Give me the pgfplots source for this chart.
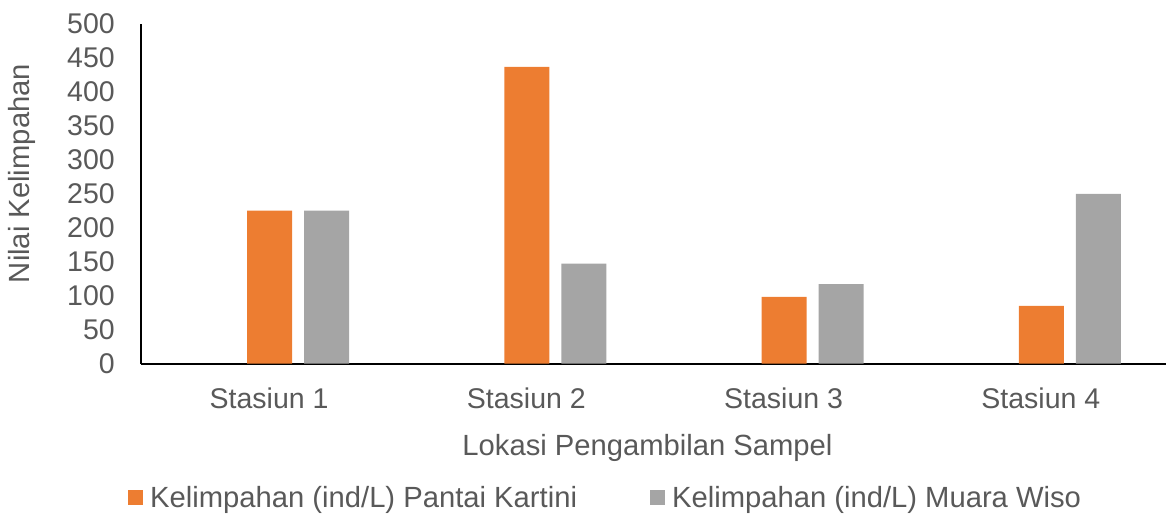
\documentclass[border=0pt]{standalone}
\usepackage{pgfplots}
\pgfplotsset{compat=1.18}
\usepackage{fontspec}
\setmainfont{Liberation Sans}
\definecolor{cOrange}{HTML}{ED7D31}
\definecolor{cGray}{HTML}{A5A5A5}
\definecolor{cText}{HTML}{595959}
\newcommand{\cf}{\fontsize{28.5}{34}\selectfont}
\newcommand{\lf}{\fontsize{29.2}{35}\selectfont}
\begin{document}
\begin{tikzpicture}
\path[use as bounding box] (0,0) rectangle (1166pt,514pt);
\begin{axis}[
  at={(140.5pt,150.5pt)}, anchor=south west,
  scale only axis, width=1029pt, height=339.5pt,
  xmin=-0.5, xmax=3.5, ymin=0, ymax=500,
  ytick={0,50,...,500},
  xtick={0,1,2,3},
  xticklabels={Stasiun 1,Stasiun 2,Stasiun 3,Stasiun 4},
  axis x line=bottom, axis y line=left,
  axis line style={-, black, line width=2pt},
  major tick length=0pt,
  /pgf/number format/assume math mode=true,
  tick label style={font=\cf, text=cText},
  yticklabel style={anchor=east, inner sep=0pt, xshift=-25.5pt},
  xticklabel style={anchor=base, inner sep=0pt, yshift=-44.5pt},
  xlabel={Lokasi Pengambilan Sampel},
  ylabel={Nilai Kelimpahan},
  every axis x label/.style={at={(axis description cs:0.4927,0)}, anchor=base, inner sep=0pt, yshift=-91.5pt, font=\lf, text=cText},
  every axis y label/.style={at={(axis description cs:0,0.5596)}, anchor=center, rotate=90, inner sep=0pt, yshift=118.5pt, font=\lf, text=cText},
  ybar, bar width=45pt,
  legend columns=2,
  legend style={draw=none, fill=none, font=\lf, text=cText, inner sep=0pt,
    at={(axis description cs:0,0)}, anchor=west, xshift=-12.5pt, yshift=-134pt,
    nodes={inner sep=0pt},
    /tikz/every odd column/.append style={column sep=7pt},
    /tikz/every even column/.append style={column sep=73pt}},
  legend image code/.code={\fill[#1] (0pt,-7.5pt) rectangle (15pt,7.5pt);},
]
\addplot[fill=cOrange, draw=none, bar shift=0.5pt] coordinates {(0,225) (1,437) (2,98) (3,85)};
\addlegendentry{Kelimpahan (ind/L) Pantai Kartini}
\addplot[fill=cGray, draw=none, bar shift=57.5pt] coordinates {(0,225) (1,147) (2,117) (3,250)};
\addlegendentry{Kelimpahan (ind/L) Muara Wiso}
\end{axis}
\end{tikzpicture}
\end{document}
